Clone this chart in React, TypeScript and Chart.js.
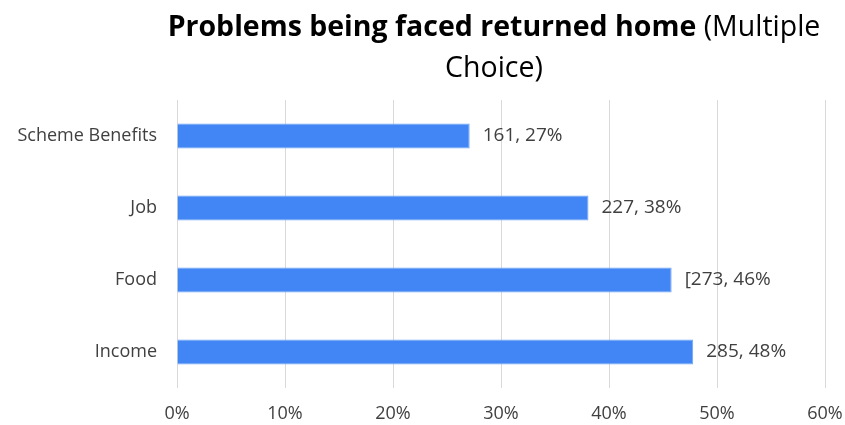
import React, { useEffect, useRef } from "react";
import { Chart, registerables } from "chart.js";

Chart.register(...registerables);

const categories = ["Scheme Benefits", "Job", "Food", "Income"];
const percentValues = [27.1, 38.1, 45.8, 47.8];
const valueLabels = ["161, 27%", "227, 38%", "[273, 46%", "285, 48%"];
const titleBold = "Problems being faced returned home";
const titleRest = " (Multiple";
const titleLine2 = "Choice)";

const FONT = "'Open Sans', 'Noto Sans', sans-serif";

const titlePlugin = {
  id: "mixedTitle",
  afterDraw(chart: any) {
    const ctx = chart.ctx;
    ctx.save();
    ctx.textBaseline = "alphabetic";
    ctx.fillStyle = "#000000";
    const boldFont = `bold 28.5px ${FONT}`;
    const normFont = `28.5px ${FONT}`;
    ctx.font = boldFont;
    const w1 = ctx.measureText(titleBold).width;
    ctx.font = normFont;
    const w2 = ctx.measureText(titleRest).width;
    const cx = 494;
    const x0 = cx - (w1 + w2) / 2;
    ctx.textAlign = "left";
    ctx.font = boldFont;
    ctx.fillText(titleBold, x0, 36);
    ctx.font = normFont;
    ctx.fillText(titleRest, x0 + w1, 36);
    ctx.textAlign = "center";
    ctx.fillText(titleLine2, cx, 77);
    ctx.restore();
  },
};

const labelPlugin = {
  id: "valueLabels",
  afterDatasetsDraw(chart: any) {
    const ctx = chart.ctx;
    const meta = chart.getDatasetMeta(0);
    ctx.save();
    ctx.font = `19px ${FONT}`;
    ctx.fillStyle = "#404040";
    ctx.textAlign = "left";
    ctx.textBaseline = "middle";
    meta.data.forEach((bar: any, i: number) => {
      ctx.fillText(valueLabels[i], bar.x + 13, bar.y);
    });
    ctx.restore();
  },
};

export default function App() {
  const ref = useRef<HTMLCanvasElement>(null);
  useEffect(() => {
    document.body.style.margin = "0";
    const chart = new Chart(ref.current as HTMLCanvasElement, {
      type: "bar",
      data: {
        labels: categories,
        datasets: [
          {
            data: percentValues,
            backgroundColor: "#4285F4",
            borderColor: "#6FA3F7",
            borderWidth: 1,
            categoryPercentage: 1,
            barPercentage: 0.35,
          },
        ],
      },
      options: {
        indexAxis: "y",
        animation: false,
        responsive: false,
        layout: { padding: { top: 100, right: 0, left: 0, bottom: 0 } },
        plugins: {
          legend: { display: false },
          tooltip: { enabled: false },
          title: { display: false },
        },
        scales: {
          x: {
            min: 0,
            max: 60,
            ticks: {
              stepSize: 10,
              callback: (v: any) => v + "%",
              font: { family: FONT, size: 18 },
              color: "#404040",
              padding: 15,
            },
            grid: { color: "#d9d9d9", drawTicks: false },
            border: { display: false },
            afterFit: (s: any) => {
              s.height = 37;
              s.paddingRight = 20;
              s.paddingLeft = 0;
            },
          },
          y: {
            ticks: {
              font: { family: FONT, size: 18 },
              color: "#404040",
              padding: 20,
            },
            grid: { display: false, drawTicks: false },
            border: { display: false },
            afterFit: (s: any) => {
              s.width = 177;
            },
          },
        },
      },
      plugins: [titlePlugin, labelPlugin],
    });
    return () => chart.destroy();
  }, []);
  return <canvas ref={ref} width={845} height={425} style={{ display: "block" }} />;
}
